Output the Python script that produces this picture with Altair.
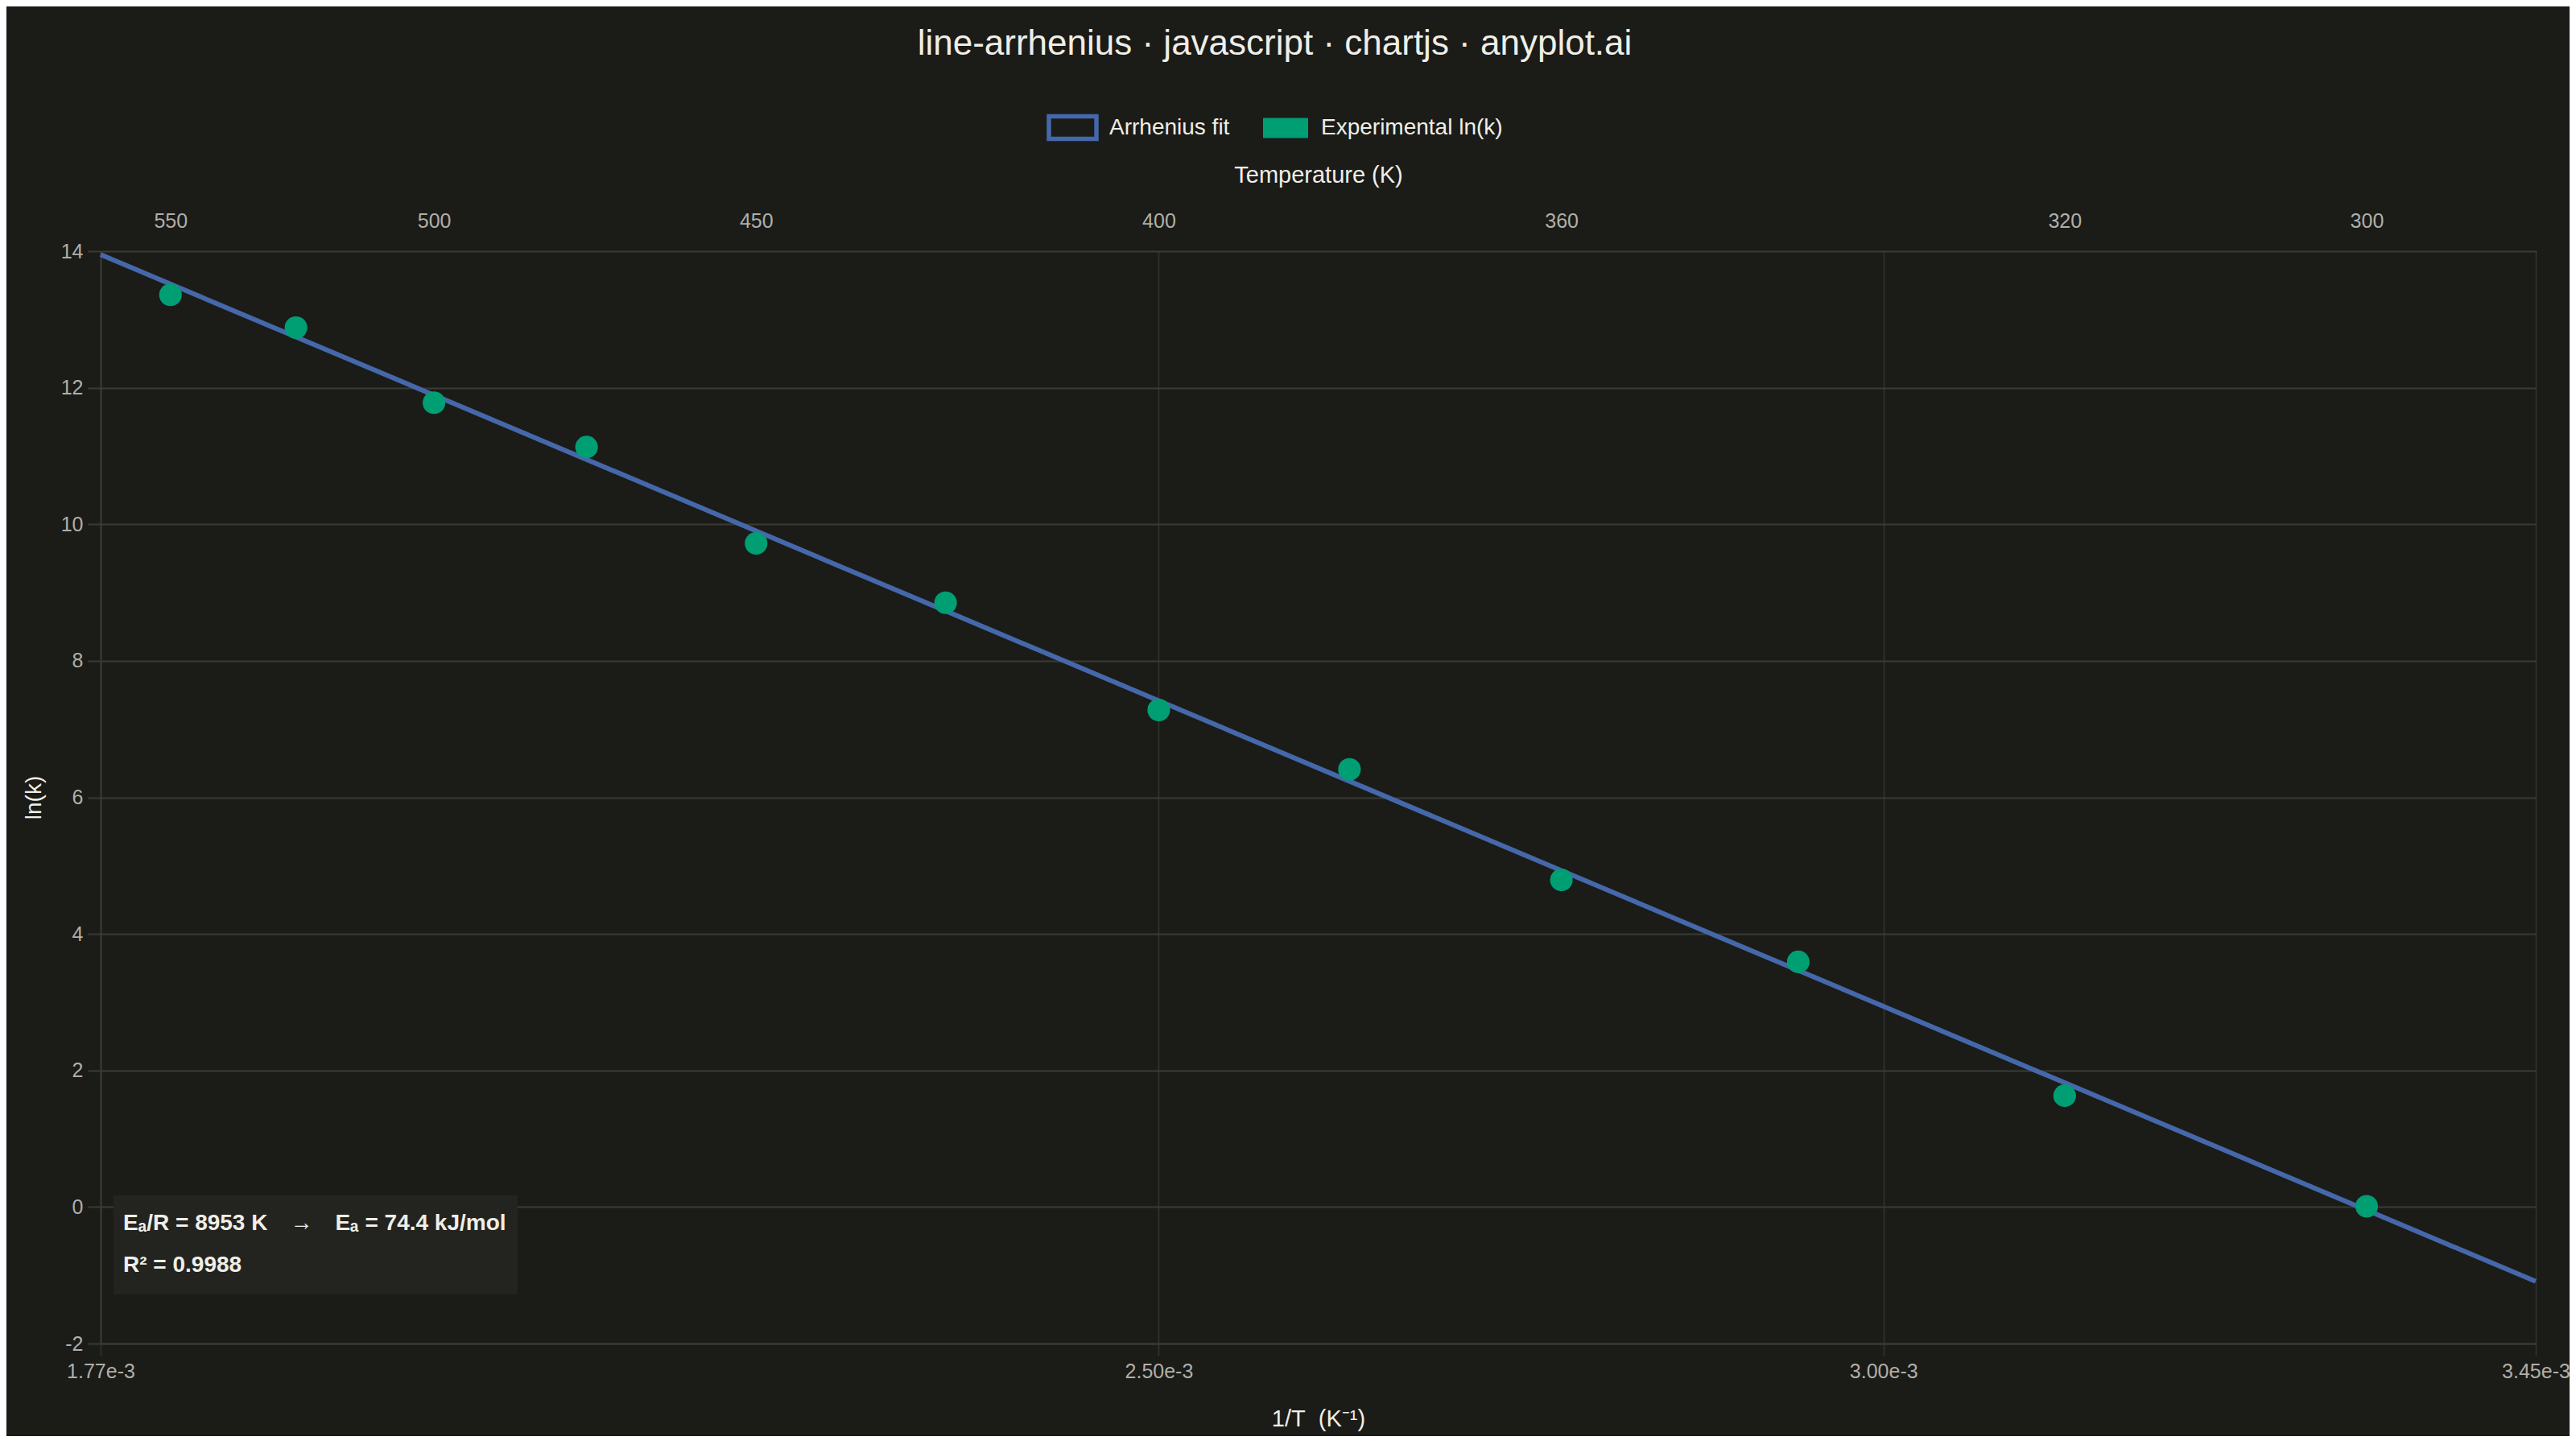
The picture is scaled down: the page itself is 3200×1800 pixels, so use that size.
import altair as alt
import pandas as pd

# ---------------- data ----------------
temps_K = [550, 525, 500, 475, 450, 425, 400, 380, 360, 340, 320, 300]
ln_k = [13.36, 12.88, 11.78, 11.13, 9.72, 8.85, 7.28, 6.41, 4.79, 3.59, 1.63, 0.01]

fit_invT = [1.77e-3, 3.45e-3]
fit_lnk = [13.95, -1.09]

x_ticks = [1.77e-3, 2.50e-3, 3.00e-3, 3.45e-3]
top_ticks_K = [550, 500, 450, 400, 360, 320, 300]
y_ticks = [-2, 0, 2, 4, 6, 8, 10, 12, 14]

series_fit = "Arrhenius fit"
series_pts = "Experimental ln(k)"

title_text = "line-arrhenius · javascript · chartjs · anyplot.ai"
annot_line1 = "Eₐ/R = 8953 K\u2003→\u2003Eₐ = 74.4 kJ/mol"
annot_line2 = "R² = 0.9988"

# ---------------- styling ----------------
FONT = "Liberation Sans"
BG = "#1b1b18"
BOX = "#23231f"
GRID = "#3a3a36"
XGRID = "#34342f"
TXT = "#efeee7"
TICK_TXT = "#b0afa8"
BLUE = "#4568aa"
GREEN = "#009e73"
RECT_PATH = "M-1,-0.475L1,-0.475L1,0.475L-1,0.475Z"

W, H = 3025, 1357

pts = pd.DataFrame({
    "invT": [1.0 / t for t in temps_K],
    "lnk": ln_k,
    "series": [series_pts] * len(temps_K),
})
fit = pd.DataFrame({
    "invT": fit_invT,
    "lnk": fit_lnk,
    "series": [series_fit] * len(fit_invT),
})

x_scale = alt.Scale(domain=[x_ticks[0], x_ticks[-1]], nice=False, zero=False)
y_scale = alt.Scale(domain=[y_ticks[0], y_ticks[-1]], nice=False, zero=False)

bottom_axis = alt.Axis(
    values=x_ticks,
    labelExpr="format(datum.value, '.2e')",
    title="1/T\u00a0 (K⁻¹)",
    grid=True, gridColor=XGRID, gridWidth=1.5,
    domain=True, domainColor=GRID, domainWidth=2,
    ticks=True, tickSize=15, tickColor=XGRID, tickWidth=1.5,
    labelFontSize=25, labelColor=TICK_TXT, labelPadding=7,
    labelFlush=False, labelOverlap=False, labelFont=FONT,
    titleFontSize=29, titleColor=TXT, titleFontWeight="normal", titleFont=FONT,
    titleY=93, titleBaseline="middle",
)

left_axis = alt.Axis(
    values=y_ticks,
    labelExpr="datum.value + ''",
    title="ln(k)",
    grid=True, gridColor=GRID, gridWidth=2,
    domain=True, domainColor=GRID, domainWidth=2,
    ticks=True, tickSize=16, tickColor=GRID, tickWidth=2,
    labelFontSize=25, labelColor=TICK_TXT, labelPadding=6,
    labelFlush=False, labelOverlap=False, labelFont=FONT,
    titleFontSize=28, titleColor=TXT, titleFontWeight="normal", titleFont=FONT,
    titleX=-83, titleY=H / 2, titleAngle=270, titleAlign="center", titleBaseline="middle",
)

top_axis = alt.Axis(
    orient="top",
    values=[1.0 / t for t in top_ticks_K],
    labelExpr="format(1 / datum.value, '.0f')",
    title="Temperature (K)",
    grid=False, domain=False, ticks=False, tickSize=0,
    labelFontSize=25, labelColor=TICK_TXT, labelPadding=25,
    labelFlush=False, labelOverlap=False, labelFont=FONT,
    titleFontSize=29, titleColor=TXT, titleFontWeight="normal", titleFont=FONT,
    titleY=-95, titleBaseline="middle",
)

box = alt.Chart(alt.Data(values=[{"k": 1}])).mark_rect(color=BOX).encode(
    x=alt.value(16), x2=alt.value(518), y=alt.value(1173), y2=alt.value(1296)
)

line = alt.Chart(fit).mark_line(strokeWidth=6).encode(
    x=alt.X("invT:Q", scale=x_scale, axis=bottom_axis),
    y=alt.Y("lnk:Q", scale=y_scale, axis=left_axis),
    stroke=alt.Stroke(
        "series:N",
        scale=alt.Scale(domain=[series_fit], range=[BLUE]),
        legend=alt.Legend(
            title=None, orient="none", legendX=1175, legendY=-186,
            direction="horizontal", padding=0,
            symbolType=RECT_PATH, symbolSize=3481, symbolStrokeWidth=5.5,
            symbolFillColor=BG, symbolStrokeColor=BLUE,
            labelFontSize=28, labelColor=TXT, labelFont=FONT, labelOffset=13,
            labelLimit=600,
        ),
    ),
)

points = alt.Chart(pts).mark_circle(size=790, opacity=1).encode(
    x=alt.X("invT:Q", scale=x_scale, axis=bottom_axis),
    y=alt.Y("lnk:Q", scale=y_scale, axis=left_axis),
    fill=alt.Fill(
        "series:N",
        scale=alt.Scale(domain=[series_pts], range=[GREEN]),
        legend=alt.Legend(
            title=None, orient="none", legendX=1441, legendY=-184,
            direction="horizontal", padding=0,
            symbolType=RECT_PATH, symbolSize=3481, symbolStrokeWidth=3,
            symbolStrokeColor=BG, symbolFillColor=GREEN,
            labelFontSize=28, labelColor=TXT, labelFont=FONT, labelOffset=13,
            labelLimit=600,
        ),
    ),
)

text1 = alt.Chart(pd.DataFrame({"label": [annot_line1]})).mark_text(
    align="left", baseline="middle", fontSize=28, fontWeight="bold", color=TXT, font=FONT
).encode(x=alt.value(28), y=alt.value(1208), text="label:N")

text2 = alt.Chart(pd.DataFrame({"label": [annot_line2]})).mark_text(
    align="left", baseline="middle", fontSize=28, fontWeight="bold", color=TXT, font=FONT
).encode(x=alt.value(28), y=alt.value(1260), text="label:N")

main = alt.layer(box, line, points, text1, text2)

top_layer = alt.Chart(pts).mark_point(opacity=0).encode(
    x=alt.X("invT:Q", scale=x_scale, axis=top_axis),
)

chart = alt.layer(main, top_layer).resolve_scale(x="independent").properties(
    width=W,
    height=H,
    background=BG,
    padding={"left": 117, "top": 304, "right": 42, "bottom": 115},
    autosize=alt.AutoSizeParams(type="none"),
    title=alt.TitleParams(
        title_text, fontSize=44, fontWeight="normal", color=TXT, font=FONT,
        anchor="middle", frame="group", dx=-54, offset=14, baseline="alphabetic",
    ),
).configure_view(stroke=None).configure(font=FONT)

chart.save("out.html", embed_options={"renderer": "svg", "actions": False})
